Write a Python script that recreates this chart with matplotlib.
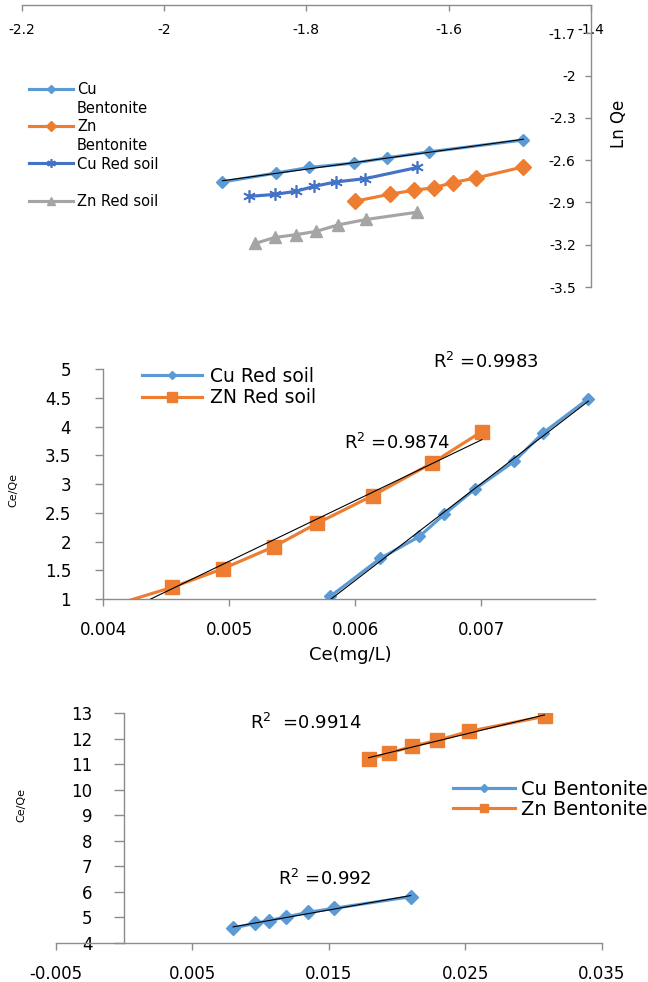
import numpy as np
import matplotlib
matplotlib.use("Agg")
import matplotlib.pyplot as plt
from matplotlib.lines import Line2D

plt.rcParams['font.family'] = ['DejaVu Sans']
plt.rcParams['axes.unicode_minus'] = False

BLUE = '#5B9BD5'
ORANGE = '#ED7D31'
DARK_BLUE = '#4472C4'
GREY = '#A5A5A5'
AXIS_GREY = '#8C8C8C'

# ---- panel 1 : ln Ce vs ln Qe (Freundlich)
lnce_cu_bent = [-1.918, -1.842, -1.796, -1.733, -1.687, -1.627, -1.495]
lnqe_cu_bent = [-2.755, -2.691, -2.652, -2.621, -2.584, -2.541, -2.457]
lnce_zn_bent = [-1.731, -1.682, -1.649, -1.620, -1.594, -1.561, -1.495]
lnqe_zn_bent = [-2.891, -2.841, -2.814, -2.795, -2.759, -2.726, -2.648]
lnce_cu_red = [-1.880, -1.844, -1.815, -1.789, -1.759, -1.717, -1.644]
lnqe_cu_red = [-2.857, -2.843, -2.821, -2.786, -2.755, -2.731, -2.652]
lnce_zn_red = [-1.872, -1.844, -1.815, -1.786, -1.755, -1.716, -1.644]
lnqe_zn_red = [-3.191, -3.148, -3.129, -3.105, -3.059, -3.021, -2.969]
p1_xticks = [-2.2, -2.0, -1.8, -1.6, -1.4]
p1_yticks = [-3.5, -3.2, -2.9, -2.6, -2.3, -2.0, -1.7]

# ---- panel 2 : red soil, Ce vs Ce/Qe (Langmuir)
ce_cu_red = [0.005802, 0.006198, 0.006508, 0.006706, 0.006947, 0.007261, 0.007485, 0.007848]
ceqe_cu_red = [1.046, 1.706, 2.088, 2.476, 2.910, 3.397, 3.883, 4.485]
ce_zn_red = [0.004200, 0.004548, 0.004950, 0.005353, 0.005700, 0.006139, 0.006607, 0.007003]
ceqe_zn_red = [0.97, 1.203, 1.527, 1.909, 2.320, 2.800, 3.362, 3.912]
p2_xticks = [0.004, 0.005, 0.006, 0.007]
p2_yticks = [1, 1.5, 2, 2.5, 3, 3.5, 4, 4.5, 5]
p2_r2 = ["R$^2$ =0.9983", "R$^2$ =0.9874"]

# ---- panel 3 : bentonite, Ce vs Ce/Qe
ce_cu_bent = [0.007977, 0.009595, 0.010573, 0.011824, 0.013473, 0.015336, 0.020985]
ceqe_cu_bent = [4.587, 4.770, 4.874, 5.017, 5.200, 5.356, 5.813]
ce_zn_bent = [0.01790, 0.01943, 0.02111, 0.02294, 0.02523, 0.03079]
ceqe_zn_bent = [11.20, 11.43, 11.70, 11.93, 12.28, 12.87]
p3_xticks = [-0.005, 0.005, 0.015, 0.025, 0.035]
p3_yticks = list(range(4, 14))
p3_r2 = ["R$^2$  =0.9914", "R$^2$ =0.992"]


def trend(ax, x, y):
    # linear trendline over the data range, like excel
    k, b = np.polyfit(x, y, 1)
    xs = np.array([min(x), max(x)])
    ax.plot(xs, k * xs + b, color='black', lw=0.8, zorder=5)


def fmt(v):
    return "{:g}".format(round(v, 6))


def style_axis(ax):
    for s in ax.spines.values():
        s.set_color(AXIS_GREY)
        s.set_linewidth(1.0)
    ax.tick_params(colors=AXIS_GREY, labelcolor='black', width=1.0)


fig = plt.figure(figsize=(6.48, 9.82), dpi=100)

# ================= panel 1
ax1 = fig.add_axes([0.0335, 0.7077, 0.8785, 0.2872])
ax1.plot(lnce_cu_bent, lnqe_cu_bent, color=BLUE, lw=2.25, marker='D', ms=6, label='Cu Bentonite')
ax1.plot(lnce_zn_bent, lnqe_zn_bent, color=ORANGE, lw=2.25, marker='D', ms=8, label='Zn Bentonite')
ax1.plot(lnce_cu_red, lnqe_cu_red, color=DARK_BLUE, lw=2.25, marker=(6, 2, 0), ms=9, mew=1.2,
         label='Cu Red soil')
ax1.plot(lnce_zn_red, lnqe_zn_red, color=GREY, lw=2.25, marker='^', ms=8, label='Zn Red soil')
trend(ax1, lnce_cu_bent, lnqe_cu_bent)
ax1.set_xlim(-2.2, -1.4)
ax1.set_ylim(-3.5, -1.5)
ax1.set_xticks(p1_xticks)
ax1.set_xticklabels([fmt(v) for v in p1_xticks])
ax1.set_yticks(p1_yticks)
ax1.set_yticklabels([fmt(v) for v in p1_yticks])
style_axis(ax1)
ax1.spines['top'].set_visible(False)
ax1.spines['right'].set_visible(False)
ax1.spines['bottom'].set_position(('axes', 1.0))
ax1.spines['left'].set_position(('axes', 1.0))
ax1.tick_params(axis='x', direction='out', length=4, pad=9, labelsize=10)
ax1.tick_params(axis='y', direction='out', length=4, pad=7, labelsize=10)
ax1.text(1.049, 0.58, "Ln Qe", transform=ax1.transAxes, rotation=90,
         ha='center', va='center', fontsize=12)

h = ax1.get_lines()
blank = Line2D([], [], color='none')
ax1.legend([h[0], blank, h[1], blank, h[2], blank, h[3]],
           ['Cu', 'Bentonite', 'Zn', 'Bentonite', 'Cu Red soil', ' ', 'Zn Red soil'],
           loc='upper left', bbox_to_anchor=(0.0128, 0.727), frameon=False,
           fontsize=10.5, borderpad=0, borderaxespad=0, handlelength=3.0,
           handletextpad=0.3, labelspacing=0.25, markerscale=0.7)

# ================= panel 2
ax2 = fig.add_axes([103 / 648, 0.3900, 492 / 648, 0.2342])
ax2.plot(ce_cu_red, ceqe_cu_red, color=BLUE, lw=2.25, marker='D', ms=6, label='Cu Red soil')
ax2.plot(ce_zn_red, ceqe_zn_red, color=ORANGE, lw=2.25, marker='s', ms=10,
         markevery=list(range(1, len(ce_zn_red))), label='ZN Red soil')
trend(ax2, ce_cu_red, ceqe_cu_red)
trend(ax2, ce_zn_red, ceqe_zn_red)
ax2.set_xlim(0.004, 0.0079)
ax2.set_ylim(1, 5)
ax2.set_xticks(p2_xticks)
ax2.set_xticklabels([fmt(v) for v in p2_xticks])
ax2.set_yticks(p2_yticks)
ax2.set_yticklabels([fmt(v) for v in p2_yticks])
style_axis(ax2)
ax2.spines['top'].set_visible(False)
ax2.spines['right'].set_visible(False)
ax2.tick_params(axis='x', direction='out', length=5, pad=11, labelsize=12)
ax2.tick_params(axis='y', direction='out', length=6, pad=17, labelsize=12)
ax2.text(-0.183, 0.474, "Ce/Qe", transform=ax2.transAxes, rotation=90,
         ha='center', va='center', fontsize=8)
ax2.text(0.502, -0.243, "Ce(mg/L)", transform=ax2.transAxes, ha='center', va='center', fontsize=13)
ax2.text(0.006619, 5.12, p2_r2[0], ha='left', va='center', fontsize=13)
ax2.text(0.005913, 3.71, p2_r2[1], ha='left', va='center', fontsize=13)
ax2.legend(handles=ax2.get_lines()[:2], loc='upper left', bbox_to_anchor=(0.0793, 1.011),
           frameon=False, fontsize=13.5, borderpad=0, borderaxespad=0, handlelength=3.2,
           handletextpad=0.4, labelspacing=0.15, markerscale=0.75)

# ================= panel 3
ax3 = fig.add_axes([56 / 648, 0.0397, 546 / 648, 0.2342])
ax3.plot(ce_cu_bent, ceqe_cu_bent, color=BLUE, lw=2.25, marker='D', ms=7, label='Cu Bentonite')
ax3.plot(ce_zn_bent, ceqe_zn_bent, color=ORANGE, lw=2.25, marker='s', ms=10, label='Zn Bentonite')
trend(ax3, ce_cu_bent, ceqe_cu_bent)
trend(ax3, ce_zn_bent, ceqe_zn_bent)
ax3.set_xlim(-0.005, 0.035)
ax3.set_ylim(4, 13)
ax3.set_xticks(p3_xticks)
ax3.set_xticklabels([fmt(v) for v in p3_xticks])
ax3.set_yticks(p3_yticks)
ax3.set_yticklabels([fmt(v) for v in p3_yticks])
style_axis(ax3)
ax3.spines['top'].set_visible(False)
ax3.spines['right'].set_visible(False)
ax3.spines['left'].set_position(('data', 0))
ax3.tick_params(axis='x', direction='out', length=5, pad=11, labelsize=12)
ax3.tick_params(axis='y', direction='out', length=7, pad=16, labelsize=12)
ax3.text(-0.064, 0.6, "Ce/Qe", transform=ax3.transAxes, rotation=90,
         ha='center', va='center', fontsize=8)
ax3.text(0.0092, 12.61, p3_r2[0], ha='left', va='center', fontsize=13)
ax3.text(0.01125, 6.50, p3_r2[1], ha='left', va='center', fontsize=13)
ax3.legend(handles=ax3.get_lines()[:2], loc='upper left', bbox_to_anchor=(0.727, 0.708),
           frameon=False, fontsize=14, borderpad=0, borderaxespad=0, handlelength=3.2,
           handletextpad=0.3, labelspacing=0.05, markerscale=0.6)

fig.savefig("out.png", dpi=100)
